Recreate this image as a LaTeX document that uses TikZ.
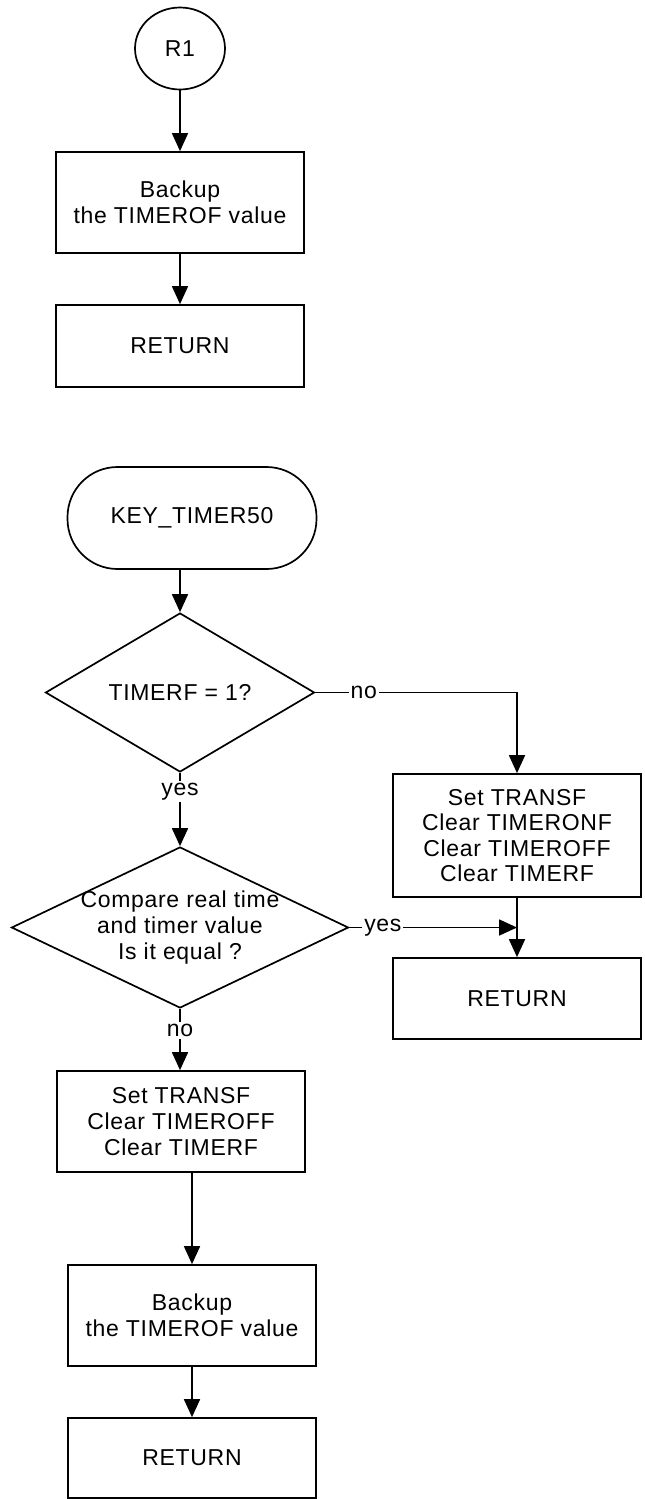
\documentclass[tikz,border=0pt]{standalone}
\usepackage{fontspec}
\setmainfont{Liberation Sans}[LetterSpace=3]
\usetikzlibrary{shapes.geometric, arrows.meta}

\begin{document}
\begin{tikzpicture}[x=0.5pt, y=-0.5pt, >={Triangle[length=9pt, width=8pt]}, line width=0.85pt,
    every node/.style={font=\fontsize{11.5}{12.8}\selectfont},
    proc/.style={draw, rectangle, minimum width=124pt, align=center, inner sep=0pt},
    decision/.style={draw, diamond, inner sep=0pt},
    lbl/.style={fill=white, inner sep=1pt}]
    \useasboundingbox (0, 0) rectangle (644, 1499);

    % R1 子程序
    \node[draw, ellipse, minimum width=45pt, minimum height=41pt] (r1) at (180, 48.5) {R1};
    \node[proc, minimum height=50.5pt] (backupa) at (180, 202.5) {Backup\\the TIMEROF value};
    \node[proc, minimum height=41pt] (reta) at (180, 346) {RETURN};

    \draw[->] (r1) -- (backupa);
    \draw[->] (backupa) -- (reta);

    % KEY_TIMER50 流程
    \node[draw, rounded corners=25pt, minimum width=124.5pt, minimum height=51pt] (start) at (192, 518) {KEY\_TIMER50};
    \node[decision, minimum width=134.5pt, minimum height=60.5pt] (dec1) at (180, 692.5) {TIMERF = 1?};
    \node[decision, minimum width=168.5pt, minimum height=80.5pt] (dec2) at (180, 927.5) {};
    \node[align=center] (dec2txt) at (dec2) {Compare real time\\and timer value\\Is it equal ?};

    \node[proc, minimum height=61.5pt] (clrb) at (517, 835.5) {Set TRANSF\\Clear TIMERONF\\Clear TIMEROFF\\Clear TIMERF};
    \node[proc, minimum height=40.5pt] (retb) at (517, 998.5) {RETURN};

    \node[proc, minimum height=50.5pt] (clra) at (181, 1121.5) {Set TRANSF\\Clear TIMEROFF\\Clear TIMERF};
    \node[proc, minimum height=50.5pt] (backupb) at (192, 1315.5) {Backup\\the TIMEROF value};
    \node[proc, minimum height=40pt] (retc) at (192, 1458) {RETURN};

    \draw[->] (dec1.north |- start.south) -- (dec1.north);
    \draw[->] (dec1.east) -- node[lbl, pos=0.24] {no} (dec1.east -| clrb.north) -- (clrb.north);
    \draw[->] (dec1.south) -- node[lbl, pos=0.26] {yes} (dec2.north);
    \draw[->] (clrb) -- (retb);
    \draw[->] (dec2.east) -- node[lbl, pos=0.2] {yes} (dec2.east -| retb.north);
    \draw[->] (dec2.south) -- node[lbl, pos=0.35] {no} (dec2.south |- clra.north);
    \draw[->] (backupb.north |- clra.south) -- (backupb.north);
    \draw[->] (backupb) -- (retc);
\end{tikzpicture}
\end{document}
